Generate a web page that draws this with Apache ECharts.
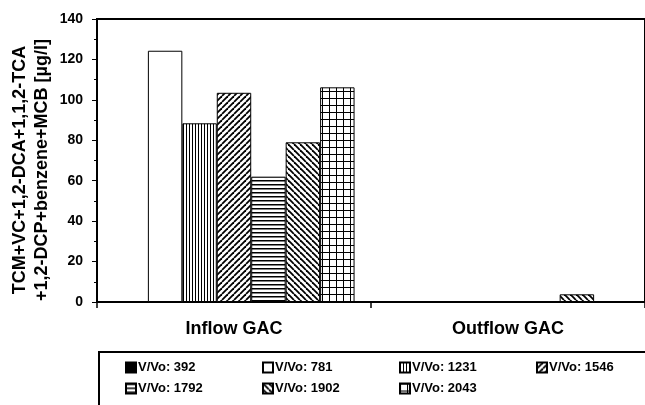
<!DOCTYPE html>
<html>
<head>
<meta charset="utf-8">
<script src="https://cdn.jsdelivr.net/npm/echarts@6/dist/echarts.min.js"></script>
<style>
  html, body { margin: 0; padding: 0; background: #fff; }
  #chart { width: 645px; height: 405px; }
</style>
</head>
<body>
<div id="chart"></div>
<script>
// Sampling sites on the x axis
var categories = ['Inflow GAC', 'Outflow GAC'];

// Throughput (bed volumes) for each bar series
var seriesNames = ['V/Vo: 392', 'V/Vo: 781', 'V/Vo: 1231', 'V/Vo: 1546', 'V/Vo: 1792', 'V/Vo: 1902', 'V/Vo: 2043'];

// Sum of TCM+VC+1,2-DCA+1,1,2-TCA+1,2-DCP+benzene+MCB [µg/l] per site
var v392  = [0, 0];
var v781  = [124.3, 0];
var v1231 = [88.4, 0];
var v1546 = [103.5, 0];
var v1792 = [62.0, 0];
var v1902 = [79.0, 3.8];
var v2043 = [106.2, 0];

var yTicks = { min: 0, max: 140, step: 20 };

// Black-and-white hatch fills
function hatch(size, draw) {
  var c = document.createElement('canvas');
  c.width = size; c.height = size;
  var ctx = c.getContext('2d');
  ctx.fillStyle = '#fff';
  ctx.fillRect(0, 0, size, size);
  ctx.fillStyle = '#000';
  ctx.strokeStyle = '#000';
  draw(ctx, size);
  return { image: c, repeat: 'repeat' };
}
var fillSolid = '#000';
var fillEmpty = '#fff';
var fillVertical = hatch(3, function (ctx, s) { ctx.fillRect(0, 0, 1, s); });
var fillForward = hatch(6, function (ctx, s) {
  ctx.lineWidth = 1.8;
  [-s, 0, s].forEach(function (o) {
    ctx.beginPath(); ctx.moveTo(o, s); ctx.lineTo(o + s, 0); ctx.stroke();
  });
});
var fillHorizontal = hatch(4, function (ctx, s) { ctx.fillRect(0, 0, s, 1.5); });
var fillBackward = hatch(6, function (ctx, s) {
  ctx.lineWidth = 1.8;
  [-s, 0, s].forEach(function (o) {
    ctx.beginPath(); ctx.moveTo(o, 0); ctx.lineTo(o + s, s); ctx.stroke();
  });
});
var fillGrid = hatch(7, function (ctx, s) {
  ctx.fillRect(0, 0, s, 1);
  ctx.fillRect(0, 0, 1, s);
});

var seriesValues = [v392, v781, v1231, v1546, v1792, v1902, v2043];
var seriesFills = [fillSolid, fillEmpty, fillVertical, fillForward, fillHorizontal, fillBackward, fillGrid];

var chart = echarts.init(document.getElementById('chart'), null, { renderer: 'canvas' });

var font = 'Liberation Sans, Arial, Helvetica, sans-serif';

// Legend laid out as four fixed columns, two rows (row-major order)
var legendColumnsX = [125, 262, 399, 536];
var legends = legendColumnsX.map(function (x, col) {
  var names = seriesNames.filter(function (n, i) { return i % 4 === col; });
  return {
    left: x, top: 361,
    orient: 'vertical',
    padding: 0,
    itemWidth: 10, itemHeight: 10,
    itemGap: 8,
    icon: 'rect',
    selectedMode: false,
    textStyle: { fontFamily: font, fontWeight: 'bold', fontSize: 13, color: '#000', padding: [0, 0, 0, -3] },
    data: names
  };
});

var option = {
  animation: false,
  backgroundColor: '#fff',
  textStyle: { fontFamily: font, color: '#000', fontWeight: 'bold' },
  grid: {
    left: 97, top: 19, right: -2, bottom: 103,
    show: true, borderColor: '#000', borderWidth: 2, backgroundColor: 'transparent'
  },
  legend: legends,
  xAxis: {
    type: 'category',
    data: categories,
    axisLine: { lineStyle: { color: '#000', width: 1.5 } },
    axisTick: { show: true, length: 6, alignWithLabel: false, lineStyle: { color: '#000', width: 1.5 } },
    axisLabel: { fontFamily: font, fontWeight: 'bold', fontSize: 18, color: '#000', margin: 18 }
  },
  yAxis: {
    type: 'value',
    min: yTicks.min, max: yTicks.max, interval: yTicks.step,
    axisLine: { show: true, lineStyle: { color: '#000', width: 1.5 } },
    axisTick: { show: true, length: 5, lineStyle: { color: '#000', width: 1 } },
    minorTick: { show: true, splitNumber: 2, length: 3, lineStyle: { color: '#000', width: 1 } },
    splitLine: { show: false },
    axisLabel: { fontFamily: font, fontWeight: 'bold', fontSize: 14, color: '#000', margin: 14 }
  },
  graphic: [{
    type: 'text',
    x: 31, y: 170,
    rotation: Math.PI / 2,
    style: {
      text: 'TCM+VC+1,2-DCA+1,1,2-TCA\n+1,2-DCP+benzene+MCB [µg/l]',
      fontFamily: font, fontWeight: 'bold', fontSize: 18, lineHeight: 22,
      fill: '#000', align: 'center', verticalAlign: 'middle'
    }
  }, {
    // legend frame, running past the right and bottom edges
    type: 'rect',
    shape: { x: 99, y: 352, width: 600, height: 80 },
    style: { fill: 'transparent', stroke: '#000', lineWidth: 2 },
    z: 0
  }],
  series: seriesNames.map(function (name, i) {
    return {
      name: name,
      type: 'bar',
      data: seriesValues[i],
      barGap: '0%',
      barCategoryGap: '12%',
      itemStyle: { color: seriesFills[i], borderColor: '#000', borderWidth: 1 },
      emphasis: { disabled: true }
    };
  })
};

chart.setOption(option);
</script>
</body>
</html>
